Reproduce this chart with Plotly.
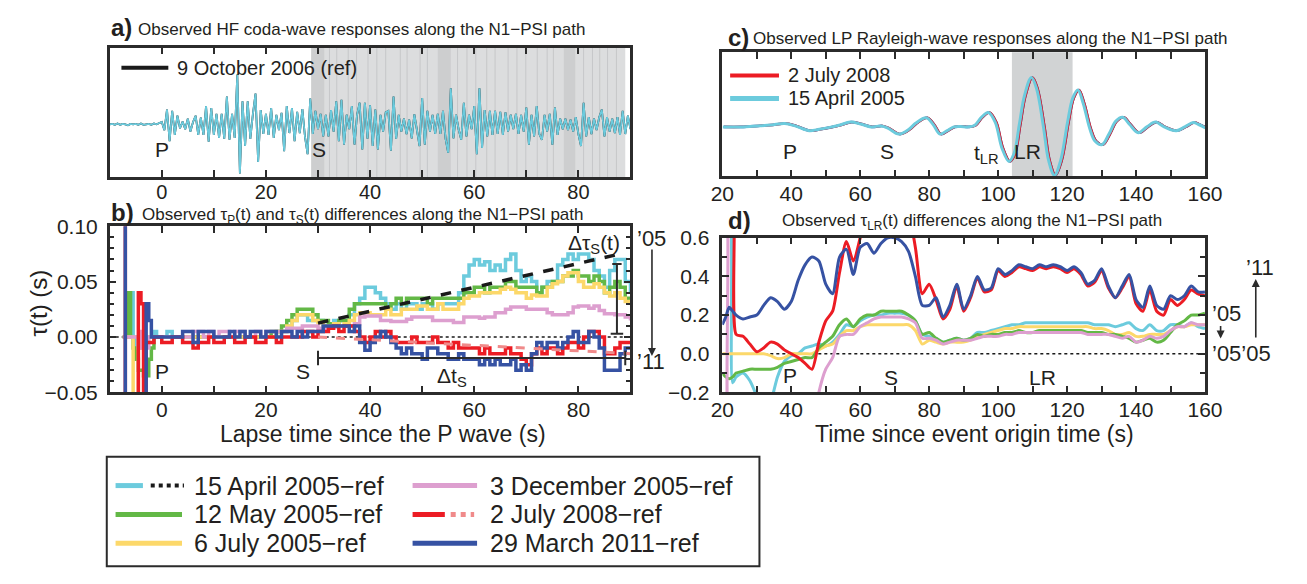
import numpy as np
import plotly.graph_objects as go

W, H = 1307, 584
FONT = "Liberation Sans"
INK = "#2b2b2b"
TXT = "#231f20"

C_CYAN = "#6ccbdd"
C_GREEN = "#63b846"
C_YELLOW = "#fcd86a"
C_PINK = "#dd9fcf"
C_RED = "#ec1c24"
C_LRED = "#f08a8a"
C_BLUE = "#3652a3"
C_BLACK = "#1a1a1a"

# ---------------- a) HF coda waveform (0.5 s sampling, -10 .. 90 s) ----------------
hf_start, hf_step = -10.0, 0.5
hf_amp = [
    0.0, 0.01, -0.01, 0.02, -0.01, 0.01, 0.0, -0.02, 0.01, 0.0, 0.01, -0.01, 0.02, -0.01, 0.0, 0.01, -0.01, 0.02, 0.0, 0.03,
    0.05, -0.12, 0.31, -0.35, 0.28, -0.22, 0.18, -0.08, 0.06, -0.1, 0.12, -0.15, 0.05, 0.18, -0.22, 0.14, -0.22, 0.38, -0.36, 0.34,
    -0.22, 0.22, -0.28, 0.22, -0.3, 0.58, -0.32, 0.22, -0.28, 1.04, -1.02, 0.48, -0.45, 0.48, -0.3, 0.22, 0.64, -0.78, 0.3, -0.2,
    0.22, -0.22, 0.34, -0.28, 0.2, -0.12, 0.24, -0.56, 0.38, -0.18, 0.34, -0.35, 0.26, -0.18, 0.32, -0.26, -0.62, 0.54, -0.2, 0.28,
    -0.1, 0.22, -0.25, 0.2, -0.25, 0.3, -0.15, 0.48, -0.35, 0.51, -0.42, 0.2, -0.1, 0.38, -0.42, 0.2, 0.45, -0.52, 0.45, -0.3,
    0.4, -0.45, 0.31, -0.52, 0.2, -0.15, 0.25, 0.28, -0.55, 0.58, -0.3, 0.2, -0.15, 0.12, -0.2, 0.1, -0.29, 0.21, -0.1, -0.45,
    0.55, -0.42, 0.28, -0.15, 0.2, -0.2, 0.22, -0.2, 0.28, -0.3, -0.59, 0.75, -0.29, 0.2, -0.1, -0.32, 0.45, -0.25, 0.2, -0.1,
    0.38, -0.62, 0.75, -0.49, 0.3, -0.25, 0.28, -0.22, 0.28, -0.2, 0.26, -0.22, 0.25, -0.15, 0.2, -0.1, 0.22, -0.2, 0.2, -0.15,
    0.35, -0.42, 0.2, -0.25, 0.38, -0.2, -0.32, 0.2, -0.15, 0.22, -0.42, 0.35, -0.22, 0.12, -0.1, 0.12, -0.12, 0.1, -0.15, 0.15,
    -0.2, -0.45, 0.45, -0.25, 0.15, -0.2, 0.12, -0.12, 0.15, 0.31, -0.25, 0.15, -0.15, 0.12, -0.18, 0.15, -0.22, 0.28, -0.2, 0.18, -0.1,
]
hf_t = hf_start + hf_step * np.arange(len(hf_amp))

# S-coda analysis windows
coda_span = (28.7, 89.0)
coda_dark = [(28.7, 31.2), (53.0, 55.5), (77.2, 79.4)]
coda_edges = [32.2, 33.6, 35.8, 37.4, 39.6, 41.3, 43.0, 45.8, 47.1, 49.6, 51.0, 56.8, 58.6,
              60.3, 62.4, 64.0, 66.5, 68.2, 69.9, 72.1, 74.0, 75.2, 81.0, 82.7, 84.1, 85.6, 87.3]

# ---------------- b) tau_P / tau_S (s) ----------------
tb = [-7.5, -7.0, -6.5, -6.0, -5.5, -5.0, -4.5, -4.0, -3.5, -3.0, -2.5, -2.0, -1.5, -1.0] + list(range(0, 91))

tau_b_0415 = [0.0, 0.0, 0.04, 0.04, 0.0, -0.01, -0.01, 0.0, 0.0, 0.0, 0.0, 0.0, 0.005, 0.0] + [
    0.0, 0.005, 0.0, 0.0, 0.0, 0.0, 0.0, 0.0, 0.0, 0.0,
    0.0, 0.0, 0.0, 0.0, 0.0, 0.0, 0.0, 0.0, 0.0, 0.0,
    0.0, 0.0, 0.005, 0.005, 0.01, 0.015, 0.02, 0.02, 0.015, 0.015,
    0.015, 0.01, 0.012, 0.015, 0.015, 0.015, 0.02, 0.03, 0.035, 0.045,
    0.045, 0.04, 0.035, 0.03, 0.025, 0.03, 0.025, 0.03, 0.03, 0.025,
    0.03, 0.03, 0.025, 0.03, 0.03, 0.03, 0.03, 0.04, 0.055, 0.065,
    0.07, 0.065, 0.068, 0.06, 0.065, 0.06, 0.07, 0.075, 0.06, 0.05,
    0.055, 0.05, 0.04, 0.045, 0.05, 0.05, 0.065, 0.07, 0.075, 0.07,
    0.075, 0.075, 0.07, 0.06, 0.055, 0.045, 0.06, 0.07, 0.07, 0.05,
    0.04]
tau_b_0512 = [0.0, 0.0, 0.04, 0.0, -0.01, -0.02, -0.03, -0.03, -0.035, -0.035, -0.02, -0.01, 0.0, 0.0] + [
    0.0, 0.0, 0.0, 0.0, 0.0, 0.0, 0.0, 0.0, 0.0, 0.0,
    0.0, 0.0, 0.0, 0.0, 0.0, 0.0, 0.0, 0.0, 0.0, 0.0,
    0.0, 0.005, 0.005, 0.01, 0.015, 0.02, 0.025, 0.025, 0.025, 0.02,
    0.015, 0.015, 0.012, 0.012, 0.015, 0.015, 0.025, 0.03, 0.03, 0.03,
    0.03, 0.03, 0.03, 0.025, 0.03, 0.035, 0.03, 0.035, 0.035, 0.035,
    0.035, 0.03, 0.035, 0.035, 0.035, 0.035, 0.035, 0.035, 0.04, 0.04,
    0.045, 0.045, 0.04, 0.045, 0.045, 0.045, 0.05, 0.05, 0.045, 0.045,
    0.045, 0.045, 0.04, 0.045, 0.045, 0.05, 0.05, 0.055, 0.055, 0.06,
    0.055, 0.055, 0.05, 0.055, 0.05, 0.04, 0.045, 0.05, 0.045, 0.035,
    0.03]
tau_b_0706 = [0.0, 0.0, 0.0, 0.0, -0.3, -0.3, 0.0, -0.01, 0.0, 0.0, 0.0, 0.0, 0.0, 0.0] + [
    0.0, 0.0, 0.0, 0.0, 0.0, 0.0, 0.0, 0.0, 0.0, 0.0,
    0.0, 0.0, 0.0, 0.0, 0.0, 0.0, 0.0, 0.0, 0.0, 0.0,
    0.0, 0.0, 0.005, 0.005, 0.01, 0.015, 0.02, 0.02, 0.02, 0.015,
    0.013, 0.01, 0.01, 0.012, 0.01, 0.012, 0.015, 0.02, 0.022, 0.022,
    0.02, 0.02, 0.02, 0.025, 0.02, 0.02, 0.025, 0.025, 0.025, 0.028,
    0.028, 0.025, 0.025, 0.03, 0.025, 0.025, 0.025, 0.03, 0.035, 0.037,
    0.037, 0.04, 0.04, 0.04, 0.04, 0.043, 0.045, 0.043, 0.04, 0.04,
    0.035, 0.038, 0.037, 0.037, 0.045, 0.048, 0.05, 0.055, 0.058, 0.058,
    0.05, 0.045, 0.045, 0.048, 0.045, 0.04, 0.037, 0.04, 0.035, 0.032,
    0.03]
tau_b_1203 = [0.0, 0.0, 0.0, 0.0, 0.0, 0.0, -0.01, 0.005, -0.01, -0.01, 0.0, 0.0, 0.0, 0.0] + [
    0.0, 0.0, 0.0, 0.0, 0.0, 0.0, 0.005, 0.005, 0.0, 0.005,
    0.0, 0.005, 0.005, 0.0, 0.005, 0.005, 0.0, 0.0, 0.005, 0.0,
    0.005, 0.005, 0.005, 0.005, 0.008, 0.008, 0.008, 0.01, 0.01, 0.01,
    0.008, 0.008, 0.009, 0.009, 0.01, 0.01, 0.01, 0.012, 0.018, 0.019,
    0.019, 0.019, 0.015, 0.015, 0.014, 0.014, 0.014, 0.016, 0.018, 0.018,
    0.018, 0.018, 0.015, 0.015, 0.015, 0.015, 0.013, 0.013, 0.018, 0.018,
    0.018, 0.017, 0.018, 0.018, 0.022, 0.022, 0.025, 0.027, 0.027, 0.027,
    0.025, 0.025, 0.025, 0.025, 0.022, 0.02, 0.02, 0.02, 0.022, 0.027,
    0.028, 0.028, 0.026, 0.028, 0.024, 0.021, 0.021, 0.02, 0.02, 0.018,
    0.015]
tau_b_0702 = [0.3, -0.3, -0.3, -0.3, -0.3, -0.3, 0.04, 0.03, -0.3, -0.005, -0.005, -0.005, 0.0, 0.0] + [
    -0.005, -0.005, 0.0, 0.0, -0.005, -0.005, -0.01, -0.005, -0.005, 0.0,
    -0.005, -0.005, 0.0, 0.0, -0.005, -0.005, 0.0, 0.0, -0.005, -0.005,
    0.0, 0.0, -0.005, 0.0, 0.0, 0.0, 0.0, 0.005, 0.005, 0.0,
    0.005, 0.005, 0.008, 0.01, 0.005, 0.01, 0.01, 0.005, 0.0, -0.005,
    0.0, 0.005, 0.0, 0.005, 0.0, -0.005, -0.005, -0.005, 0.0, -0.005,
    -0.005, -0.005, 0.0, -0.005, -0.005, -0.01, -0.005, -0.01, -0.01, -0.01,
    -0.01, -0.015, -0.01, -0.015, -0.015, -0.015, -0.01, -0.015, -0.015, -0.02,
    -0.025, -0.015, -0.01, -0.015, -0.01, -0.01, -0.015, -0.01, -0.005, -0.005,
    -0.01, 0.0, 0.005, 0.005, 0.0, -0.015, -0.015, -0.01, -0.005, -0.005,
    -0.005]
tau_b_0329 = [0.3, -0.3, -0.3, -0.3, -0.3, -0.3, -0.3, -0.3, -0.3, 0.03, 0.015, 0.0, 0.0, 0.0] + [
    0.0, 0.0, 0.0, 0.0, 0.005, 0.005, -0.005, 0.005, 0.005, 0.005,
    0.0, 0.0, 0.0, 0.005, 0.0, 0.005, 0.0, 0.005, 0.005, 0.0,
    0.005, 0.005, 0.0, 0.005, 0.005, 0.0, 0.005, 0.0, 0.005, 0.005,
    0.005, 0.01, 0.01, 0.01, 0.01, 0.01, 0.005, 0.01, -0.005, -0.012,
    -0.005, 0.0, 0.005, 0.0, -0.005, -0.01, -0.015, -0.01, -0.015, -0.015,
    -0.02, -0.01, -0.01, -0.015, -0.015, -0.02, -0.02, -0.015, -0.02, -0.02,
    -0.02, -0.025, -0.02, -0.025, -0.02, -0.025, -0.025, -0.02, -0.03, -0.025,
    -0.03, -0.015, -0.005, -0.01, -0.005, -0.005, -0.01, -0.005, 0.0, 0.005,
    -0.005, -0.005, 0.005, 0.0, -0.01, -0.03, -0.03, -0.03, -0.015, -0.01,
    -0.01]

# linear trends of the S-coda delays
trend_t = [30.0, 88.0]
trend_0415 = [0.0125, 0.075]
trend_t_0702 = [30.0, 90.0]
trend_0702 = [0.0, -0.015]

# ---------------- c) LP Rayleigh waveform ----------------
lp_t = [20, 25, 30, 34, 38, 41, 45, 48, 51, 54, 57, 60, 63, 66, 68, 71, 74, 76, 79, 81,
        83, 85, 87, 89, 91, 93, 95, 97, 99, 101, 103, 104.5, 106, 107.5, 109.5, 111, 113, 114.5, 116.2, 118,
        120, 121.5, 123, 124.5, 126.5, 128, 130, 132, 134, 136, 138, 140.5, 143, 145.5, 148, 151.5, 154, 156.5, 158, 160]
lp_amp = [0, 0, 0.02, 0.04, 0.07, 0.02, -0.08, -0.05, -0.01, 0.04, 0.1, 0.06, 0.0, 0.02, -0.03, -0.15, -0.05, 0.08, 0.19, 0.05,
          -0.15, -0.08, 0.0, 0.01, 0.0, 0.03, 0.2, 0.3, 0.1, -0.45, -0.72, -0.55, 0.05, 0.65, 1.03, 0.8, 0.0, -0.7, -1.01, -0.7,
          0.1, 0.6, 0.77, 0.5, -0.05, -0.3, -0.37, -0.15, 0.12, 0.2, 0.05, -0.12, 0.0, 0.1, 0.0, -0.08, 0.0, 0.09, 0.05, -0.02]
lr_delay_2005 = 0.15
lr_delay_2008 = 0.45
lr_delay_2011 = 0.45
lr_window = (104.0, 121.6)

# ---------------- d) tau_LR (s) ----------------
td = [20, 21, 22, 23, 24] + list(range(26, 161, 2))
tau_d_0329 = [0.15, 0.19, 0.24, 0.22, 0.2,
              0.18, 0.19, 0.2, 0.25, 0.29, 0.27, 0.23, 0.27, 0.38, 0.46,
              0.5, 0.48, 0.36, 0.31, 0.5, 0.54, 0.41, 0.55, 0.57, 0.52,
              0.57, 0.6, 0.6, 0.58, 0.53, 0.4, 0.25, 0.25, 0.29, 0.19,
              0.25, 0.36, 0.23, 0.3, 0.4, 0.33, 0.34, 0.44, 0.41, 0.43,
              0.46, 0.45, 0.44, 0.46, 0.45, 0.46, 0.45, 0.43, 0.45, 0.42,
              0.36, 0.38, 0.44, 0.35, 0.29, 0.35, 0.41, 0.28, 0.24, 0.35,
              0.25, 0.23, 0.3, 0.28, 0.3, 0.35, 0.32, 0.32]
tau_d_0702 = [0.8, 0.8, 0.8, 0.8, 0.1,
              0.09, 0.05, 0.01, 0.03, 0.06, 0.05, 0.02, 0.0, -0.02, -0.05,
              -0.08, 0.06, 0.17, 0.22, 0.42, 0.58, 0.48, 0.6, 0.75, 0.75,
              0.75, 0.75, 0.75, 0.75, 0.72, 0.55, 0.31, 0.36, 0.28, 0.18,
              0.23, 0.35, 0.22, 0.29, 0.39, 0.32, 0.33, 0.43, 0.4, 0.42,
              0.45, 0.44, 0.43, 0.45, 0.44, 0.45, 0.44, 0.42, 0.44, 0.41,
              0.35, 0.37, 0.43, 0.34, 0.29, 0.34, 0.4, 0.26, 0.22, 0.33,
              0.22, 0.2, 0.28, 0.25, 0.28, 0.33, 0.31, 0.3]
tau_d_0415 = [0.8, 0.8, 0.8, -0.15, -0.12,
              -0.1, -0.14, -0.22, -0.3, -0.25, -0.12, -0.04, -0.01, 0.0, 0.03,
              0.04, 0.05, 0.04, 0.06, 0.1, 0.15, 0.14, 0.17, 0.19, 0.2,
              0.2, 0.21, 0.21, 0.21, 0.2, 0.17, 0.1, 0.09, 0.08, 0.06,
              0.07, 0.08, 0.07, 0.08, 0.11, 0.11, 0.12, 0.13, 0.14, 0.15,
              0.15, 0.16, 0.16, 0.16, 0.16, 0.16, 0.16, 0.16, 0.16, 0.16,
              0.16, 0.15, 0.15, 0.15, 0.14, 0.15, 0.16, 0.13, 0.12, 0.15,
              0.12, 0.12, 0.15, 0.15, 0.14, 0.16, 0.14, 0.13]
tau_d_0706 = [0.0, 0.0, 0.0, 0.0, 0.0,
              0.0, 0.0, 0.0, 0.0, -0.01, -0.025, -0.02, 0.0, 0.0, 0.0,
              0.0, 0.02, 0.04, 0.05, 0.09, 0.12, 0.12, 0.14, 0.15, 0.15,
              0.15, 0.15, 0.15, 0.15, 0.15, 0.12, 0.05, 0.07, 0.06, 0.05,
              0.06, 0.06, 0.06, 0.07, 0.09, 0.1, 0.11, 0.12, 0.13, 0.13,
              0.14, 0.14, 0.14, 0.14, 0.14, 0.14, 0.14, 0.14, 0.14, 0.14,
              0.14, 0.13, 0.13, 0.12, 0.1, 0.1, 0.11, 0.09, 0.09, 0.1,
              0.1, 0.1, 0.12, 0.14, 0.14, 0.15, 0.15, 0.15]
tau_d_0512 = [-0.1, -0.12, -0.13, -0.12, -0.1,
              -0.09, -0.08, -0.08, -0.08, -0.08, -0.07, -0.05, -0.04, -0.03, -0.02,
              -0.02, 0.03, 0.06, 0.09, 0.15, 0.18, 0.14, 0.18, 0.2, 0.2,
              0.22, 0.22, 0.22, 0.22, 0.2, 0.17, 0.1, 0.11, 0.08, 0.06,
              0.07, 0.08, 0.07, 0.08, 0.1, 0.09, 0.1, 0.1, 0.11, 0.11,
              0.12, 0.11, 0.11, 0.12, 0.12, 0.12, 0.12, 0.12, 0.12, 0.12,
              0.11, 0.11, 0.11, 0.1, 0.1, 0.09, 0.08, 0.06, 0.07, 0.08,
              0.06, 0.07, 0.11, 0.15, 0.17, 0.2, 0.2, 0.21]
tau_d_1203 = [0.8, 0.8, -0.4, -0.4, -0.4,
              -0.4, -0.4, -0.4, -0.4, -0.4, -0.4, -0.4, -0.4, -0.4, -0.4,
              -0.4, -0.2, -0.08, -0.02, 0.09, 0.1, 0.1, 0.14, 0.16, 0.18,
              0.19, 0.19, 0.19, 0.19, 0.18, 0.16, 0.08, 0.08, 0.07, 0.05,
              0.06, 0.07, 0.07, 0.07, 0.08, 0.09, 0.09, 0.09, 0.1, 0.1,
              0.11, 0.11, 0.11, 0.11, 0.11, 0.11, 0.11, 0.11, 0.11, 0.11,
              0.1, 0.1, 0.1, 0.1, 0.09, 0.08, 0.09, 0.06, 0.07, 0.09,
              0.08, 0.09, 0.12, 0.14, 0.14, 0.16, 0.15, 0.15]

for s in (tau_b_0415, tau_b_0512, tau_b_0706, tau_b_1203, tau_b_0702, tau_b_0329):
    assert len(s) == len(tb)
for s in (tau_d_0329, tau_d_0702, tau_d_0415, tau_d_0706, tau_d_0512, tau_d_1203):
    assert len(s) == len(td)
assert len(lp_t) == len(lp_amp)

# ---------------- figure ----------------
def px(x):
    return x / W


def py(y):
    return 1 - y / H


fig = go.Figure()


def line(ax, x, y, color, width, dash=None, shape="linear", smoothing=None):
    ln = dict(color=color, width=width, shape=shape)
    if dash:
        ln["dash"] = dash
    if smoothing is not None:
        ln["smoothing"] = smoothing
    fig.add_trace(go.Scatter(x=x, y=y, mode="lines", line=ln, xaxis="x" + ax, yaxis="y" + ax,
                             hoverinfo="skip", showlegend=False))


# a) reference record underneath, 15 April 2005 on top
line("", hf_t, hf_amp, C_BLACK, 1.8)
line("", hf_t, hf_amp, C_CYAN, 1.8)

# b)
line("2", [-10, 90], [0, 0], C_BLACK, 1.3, dash="dot")
for s, c in ((tau_b_0415, C_CYAN), (tau_b_0512, C_GREEN), (tau_b_0706, C_YELLOW),
             (tau_b_1203, C_PINK), (tau_b_0702, C_RED), (tau_b_0329, C_BLUE)):
    line("2", tb, s, c, 3.5, shape="hv")
line("2", trend_t, trend_0415, C_BLACK, 3.5, dash="dash")
line("2", trend_t_0702, trend_0702, C_LRED, 3.0, dash="dash")

# c)
lp_arr = np.array(lp_t, dtype=float)
line("3", lp_arr + lr_delay_2011, lp_amp, C_BLUE, 2.6, shape="spline", smoothing=1.0)
line("3", lp_arr + lr_delay_2008, lp_amp, C_RED, 2.4, shape="spline", smoothing=1.0)
line("3", lp_arr + lr_delay_2005, lp_amp, C_CYAN, 3.0, shape="spline", smoothing=1.0)

# d)
line("4", [20, 160], [0, 0], C_BLACK, 1.3, dash="dot")
for s, c in ((tau_d_0415, C_CYAN), (tau_d_0706, C_YELLOW), (tau_d_0512, C_GREEN),
             (tau_d_1203, C_PINK), (tau_d_0702, C_RED), (tau_d_0329, C_BLUE)):
    line("4", td, s, c, 3.0, shape="spline", smoothing=0.7)

# ---------------- axes ----------------
TICKFONT = dict(family=FONT, size=21, color=TXT)


def frame(**kw):
    d = dict(showline=True, linewidth=2.5, linecolor=INK, mirror="allticks",
             ticks="inside", ticklen=7, tickwidth=2, tickcolor=INK,
             showgrid=False, zeroline=False, tickfont=TICKFONT, fixedrange=True)
    d.update(kw)
    return d


xminor = dict(dtick=10, ticklen=7, tickwidth=2, tickcolor=INK, ticks="inside", showgrid=False)

dom_ab_x = [px(100), px(633)]
dom_cd_x = [px(727), px(1221)]

fig.update_layout(
    xaxis=frame(domain=dom_ab_x, range=[-10, 90], dtick=20, tick0=0, minor=xminor, anchor="y",
                ticklabelstandoff=-5, tickfont=dict(family=FONT, size=20, color=TXT)),
    yaxis=frame(domain=[py(172), py(37)], range=[-1.1, 1.6], ticks="", showticklabels=False,
                mirror=True, anchor="x"),
    xaxis2=frame(domain=dom_ab_x, range=[-10, 90], dtick=20, tick0=0, minor=xminor, anchor="y2",
                 ticklabelstandoff=-3),
    yaxis2=frame(domain=[py(396), py(223)], range=[-0.05, 0.10], dtick=0.05, tick0=0, tickformat=".2f",
                 minor=dict(dtick=0.01, ticklen=5, tickwidth=2, tickcolor=INK, ticks="inside", showgrid=False),
                 anchor="x2", ticklabelstandoff=5),
    xaxis3=frame(domain=dom_cd_x, range=[20, 160], dtick=20, tick0=0, minor=xminor, anchor="y3",
                 ticklabelstandoff=-3),
    yaxis3=frame(domain=[py(171), py(42)], range=[-1.03, 1.555], ticks="", showticklabels=False,
                 mirror=True, anchor="x3"),
    xaxis4=frame(domain=dom_cd_x, range=[20, 160], dtick=20, tick0=0, minor=xminor, anchor="y4",
                 ticklabelstandoff=-3),
    yaxis4=frame(domain=[py(396), py(235)], range=[-0.2, 0.6], dtick=0.2, tick0=0, tickformat=".1f",
                 minor=dict(dtick=0.1, ticklen=5, tickwidth=2, tickcolor=INK, ticks="inside", showgrid=False),
                 anchor="x4", ticklabelstandoff=6),
)

# ---------------- shapes ----------------
shapes = []
# coda windows in a)
shapes.append(dict(type="rect", xref="x", yref="y domain", x0=coda_span[0], x1=coda_span[1], y0=0, y1=1,
                   fillcolor="#dcddde", line=dict(width=0), layer="below"))
for a, b in coda_dark:
    shapes.append(dict(type="rect", xref="x", yref="y domain", x0=a, x1=b, y0=0, y1=1,
                       fillcolor="#cdcecf", line=dict(width=0), layer="below"))
for e in coda_edges:
    shapes.append(dict(type="line", xref="x", yref="y domain", x0=e, x1=e, y0=0, y1=1,
                       line=dict(color="#c6c7c9", width=1), layer="below"))
# LR window in c)
shapes.append(dict(type="rect", xref="x3", yref="y3 domain", x0=lr_window[0], x1=lr_window[1], y0=0, y1=1,
                   fillcolor="#d1d3d4", line=dict(width=0), layer="below"))

# S-coda span and delta-tau brackets in b)
s_span = (30.0, 89.0)
s_bar = -0.019
s_cap = 0.0065
shapes += [
    dict(type="line", xref="x2", yref="y2", x0=s_span[0], x1=s_span[1], y0=s_bar, y1=s_bar,
         line=dict(color=INK, width=2)),
    dict(type="line", xref="x2", yref="y2", x0=s_span[0], x1=s_span[0], y0=s_bar - s_cap, y1=s_bar + s_cap,
         line=dict(color=INK, width=2)),
    dict(type="line", xref="x2", yref="y2", x0=s_span[1], x1=s_span[1], y0=s_bar - s_cap, y1=s_bar + s_cap,
         line=dict(color=INK, width=2)),
]
dtau_t = 87.4
dtau_lo, dtau_hi = 0.003, 0.066
shapes += [
    dict(type="line", xref="x2", yref="y2", x0=dtau_t, x1=dtau_t, y0=dtau_lo, y1=dtau_hi,
         line=dict(color=INK, width=2)),
    dict(type="line", xref="x2", yref="y2", x0=dtau_t - 0.9, x1=dtau_t + 0.9, y0=dtau_hi, y1=dtau_hi,
         line=dict(color=INK, width=2)),
    dict(type="line", xref="x2", yref="y2", x0=dtau_t - 1.2, x1=dtau_t + 1.2, y0=dtau_lo, y1=dtau_lo,
         line=dict(color=INK, width=2)),
]


def hseg(x0, x1, y, color, width, dash=None):
    ln = dict(color=color, width=width)
    if dash:
        ln["dash"] = dash
    shapes.append(dict(type="line", xref="paper", yref="paper", x0=px(x0), x1=px(x1), y0=py(y), y1=py(y),
                       line=ln))


# legend swatches in a) and c)
hseg(112, 160, 58, C_BLACK, 4)
hseg(735, 785, 66, C_RED, 4)
hseg(735, 785, 90, C_CYAN, 5)

# bottom legend
shapes.append(dict(type="rect", xref="paper", yref="paper", x0=px(97), x1=px(765), y0=py(577), y1=py(463),
                   line=dict(color=INK, width=2), fillcolor="rgba(0,0,0,0)"))
rows = [493, 523, 553]
hseg(106, 134, rows[0], C_CYAN, 5)
hseg(142, 176, rows[0], C_BLACK, 4, dash="dot")
hseg(106, 174, rows[1], C_GREEN, 5)
hseg(106, 174, rows[2], C_YELLOW, 5)
hseg(410, 476, rows[0], C_PINK, 5)
hseg(410, 443, rows[1], C_RED, 5)
hseg(449, 473, rows[1], C_LRED, 5, dash="dot")
hseg(410, 476, rows[2], C_BLUE, 5)

fig.update_layout(shapes=shapes)

# ---------------- text ----------------
ann = []


def ptext(x, y, text, size, anchor="left", color=TXT, angle=0):
    ann.append(dict(x=px(x), y=py(y), xref="paper", yref="paper", text=text, showarrow=False,
                    xanchor=anchor, yanchor="middle", textangle=angle,
                    font=dict(family=FONT, size=size, color=color)))


def dtext(ax, x, y, text, size=21, anchor="center"):
    ann.append(dict(x=x, y=y, xref="x" + ax, yref="y" + ax, text=text, showarrow=False,
                    xanchor=anchor, yanchor="middle", font=dict(family=FONT, size=size, color=TXT)))


# panel titles
ptext(99, 16, "<b>a)</b>", 24)
ptext(127, 18, "Observed HF coda-wave responses along the N1\u2212PSI path", 17)
ptext(99, 209, "<b>b)</b>", 24)
ptext(131, 212, "Observed \u03c4<sub>P</sub>(t) and \u03c4<sub>S</sub>(t) differences along the N1\u2212PSI path", 17)
ptext(731, 27, "<b>c)</b>", 24)
ptext(756, 28, "Observed LP Rayleigh-wave responses along the N1\u2212PSI path", 17)
ptext(731, 217, "<b>d)</b>", 24)
ptext(786, 219, "Observed \u03c4<sub>LR</sub>(t) differences along the N1\u2212PSI path", 17)

# axis titles
ptext(380, 439, "Lapse time since the P wave (s)", 23, anchor="center")
ptext(27, 303, "\u03c4(t) (s)", 24, anchor="center", angle=-90)
ptext(985, 439, "Time since event origin time (s)", 23, anchor="center")

# in-panel legends
ptext(167, 58, "9 October 2006 (ref)", 20)
ptext(792, 66, "2 July 2008", 20)
ptext(792, 90, "15 April 2005", 20)

# phase labels
dtext("", 0.0, -0.52, "P")
dtext("", 30.2, -0.52, "S")
dtext("2", 0.0, -0.031, "P")
dtext("2", 27.2, -0.031, "S")
dtext("2", 55.7, -0.036, "\u0394t<sub>S</sub>")
dtext("2", 83.0, 0.0835, "\u0394\u03c4<sub>S</sub>(t)")
dtext("3", 39.5, -0.52, "P")
dtext("3", 67.8, -0.52, "S")
dtext("3", 96.5, -0.56, "t<sub>LR</sub>")
dtext("3", 108.6, -0.52, "LR")
dtext("4", 39.5, -0.115, "P")
dtext("4", 69.0, -0.125, "S")
dtext("4", 113.0, -0.125, "LR")

# year markers beside b) and d)
ptext(638, 236, "\u201905", 22)
ptext(638, 364, "\u201911", 22)
ptext(1226, 314, "\u201905", 22)
ptext(1226, 355, "\u201905\u201905", 22)
ptext(1261, 266, "\u201911", 22)


def arrow(x, y_tail, y_head):
    ann.append(dict(x=px(x), y=py(y_head), xref="paper", yref="paper", ax=0, ay=y_tail - y_head,
                    axref="pixel", ayref="pixel", text="", showarrow=True, arrowhead=2, arrowsize=1,
                    arrowwidth=1.6, arrowcolor=INK))


arrow(655, 250, 358)
arrow(1237, 326, 340)
arrow(1273, 338, 278)

# bottom legend labels
LEG = 25
ptext(184, rows[0], "15 April 2005\u2212ref", LEG)
ptext(184, rows[1], "12 May 2005\u2212ref", LEG)
ptext(184, rows[2], "6 July 2005\u2212ref", LEG)
ptext(487, rows[0], "3 December 2005\u2212ref", LEG)
ptext(487, rows[1], "2 July 2008\u2212ref", LEG)
ptext(487, rows[2], "29 March 2011\u2212ref", LEG)

fig.update_layout(
    annotations=ann,
    width=W, height=H, margin=dict(l=0, r=0, t=0, b=0),
    paper_bgcolor="white", plot_bgcolor="white", showlegend=False,
    font=dict(family=FONT, color=TXT),
)

fig.write_html("out.html", config={"displayModeBar": False})
